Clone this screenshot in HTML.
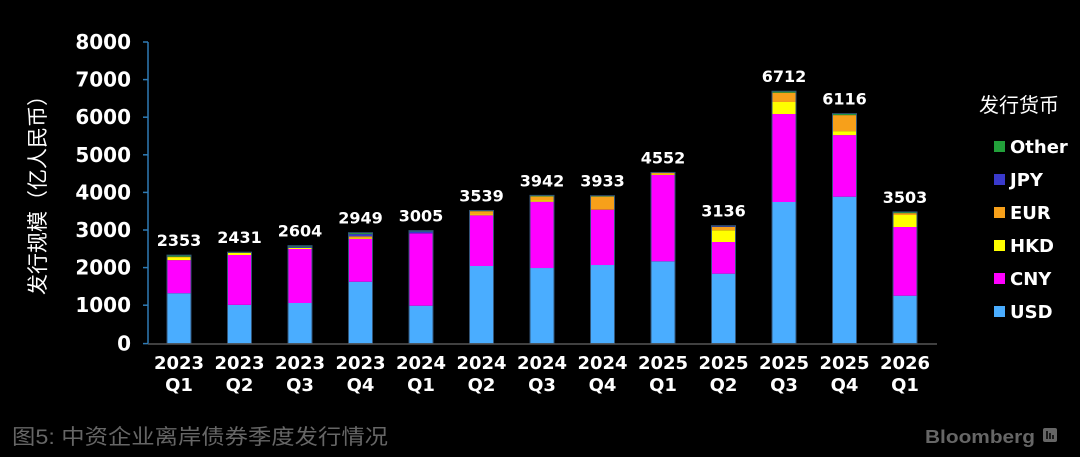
<!DOCTYPE html>
<html><head><meta charset="utf-8"><style>
html,body{margin:0;padding:0;background:#000;}
svg{display:block}
.t{font-family:"DejaVu Sans","Liberation Sans",sans-serif;font-weight:bold;fill:#fff}
.c{font-family:"Liberation Sans","Noto Sans CJK SC",sans-serif}
</style></head><body>
<svg width="1080" height="457" viewBox="0 0 1080 457" xmlns="http://www.w3.org/2000/svg">
<rect width="1080" height="457" fill="#000"/>
<g id="bars"></g>
<line x1="148" y1="42" x2="148" y2="344" stroke="#2f7bb5" stroke-width="1.5"/>
<g stroke="#2f7bb5" stroke-width="1.5">
<line x1="143" y1="42" x2="148" y2="42"/><line x1="143" y1="79.6" x2="148" y2="79.6"/>
<line x1="143" y1="117.2" x2="148" y2="117.2"/><line x1="143" y1="154.8" x2="148" y2="154.8"/>
<line x1="143" y1="192.4" x2="148" y2="192.4"/><line x1="143" y1="230" x2="148" y2="230"/>
<line x1="143" y1="267.6" x2="148" y2="267.6"/><line x1="143" y1="305.2" x2="148" y2="305.2"/>
<line x1="143" y1="343.6" x2="148" y2="343.6"/>
</g>
<line x1="148" y1="344" x2="937" y2="344" stroke="#555" stroke-width="1.5"/>
<g class="t" font-size="20" text-anchor="end">
<text x="131" y="49">8000</text><text x="131" y="86.6">7000</text>
<text x="131" y="124.2">6000</text><text x="131" y="161.8">5000</text>
<text x="131" y="199.4">4000</text><text x="131" y="237">3000</text>
<text x="131" y="274.6">2000</text><text x="131" y="312.2">1000</text>
<text x="131" y="350.6">0</text>
</g>
<text class="c" font-size="21" fill="#fff" transform="translate(45,190) rotate(-90)" text-anchor="middle">发行规模（亿人民币）</text>
<g id="xl" class="t" font-size="18" text-anchor="middle"></g>
<g id="dl" class="t" font-size="16" text-anchor="middle"></g>
<text class="c" x="979" y="112" font-size="20" fill="#fff">发行货币</text>
<g class="t" font-size="18">
<rect x="994" y="141" width="11" height="11" fill="#22a03a"/><text x="1010" y="153">Other</text>
<rect x="994" y="174" width="11" height="11" fill="#3a3acc"/><text x="1010" y="186">JPY</text>
<rect x="994" y="207" width="11" height="11" fill="#f7a01a"/><text x="1010" y="219">EUR</text>
<rect x="994" y="240" width="11" height="11" fill="#ffff00"/><text x="1010" y="252">HKD</text>
<rect x="994" y="273" width="11" height="11" fill="#ff00ff"/><text x="1010" y="285">CNY</text>
<rect x="994" y="306" width="11" height="11" fill="#4aadff"/><text x="1010" y="318">USD</text>
</g>
<text class="c" x="12" y="444" font-size="21" fill="#666" textLength="376" lengthAdjust="spacingAndGlyphs">图5: 中资企业离岸债券季度发行情况</text>
<text x="925" y="443" font-family="Liberation Sans,sans-serif" font-weight="bold" font-size="18" fill="#666" textLength="110" lengthAdjust="spacingAndGlyphs">Bloomberg</text>
<rect x="1043" y="428" width="14" height="14" rx="2" fill="#666"/>
<g stroke="#000" stroke-width="1.5"><line x1="1047" y1="431" x2="1047" y2="439"/><line x1="1050" y1="433" x2="1050" y2="439"/><line x1="1053" y1="435" x2="1053" y2="439"/></g>
<script>
var data=[
["2023","Q1",[1340,880,70,20,0,43],2353],
["2023","Q2",[1030,1326,60,0,0,15],2431],
["2023","Q3",[1080,1436,30,0,30,28],2604],
["2023","Q4",[1646,1136,20,50,60,37],2949],
["2024","Q1",[1008,1925,0,0,50,22],3005],
["2024","Q2",[2064,1348,20,90,0,17],3539],
["2024","Q3",[2010,1764,40,100,0,28],3942],
["2024","Q4",[2090,1471,0,350,0,22],3933],
["2025","Q1",[2189,2295,20,48,0,0],4552],
["2025","Q2",[1860,842,312,90,20,12],3136],
["2025","Q3",[3766,2340,320,247,0,39],6712],
["2025","Q4",[3907,1638,106,426,0,39],6116],
["2026","Q1",[1274,1827,319,50,0,33],3503]];
var cols=["#4aadff","#ff00ff","#ffff00","#f7a01a","#3a3acc","#22a03a"];
var NS="http://www.w3.org/2000/svg",k=37.6/1000,y0=343.6;
var B=document.getElementById("bars"),X=document.getElementById("xl"),D=document.getElementById("dl");
function el(n,a,p,t){var e=document.createElementNS(NS,n);for(var q in a)e.setAttribute(q,a[q]);if(t)e.textContent=t;p.appendChild(e);return e;}
data.forEach(function(d,i){
 var x=167+60.5*i,cum=0;
 d[2].forEach(function(v,j){ if(v<=0)return; var h=v*k; el("rect",{x:x,y:y0-(cum+v)*k,width:24,height:h,fill:cols[j]},B); cum+=v;});
 el("rect",{x:x,y:y0-d[3]*k,width:24,height:d[3]*k,fill:"none",stroke:"#335577","stroke-width":"1"},B);
 el("text",{x:x+12,y:y0-d[3]*k-9},D,String(d[3]));
 el("text",{x:x+12,y:369},X,d[0]);
 el("text",{x:x+12,y:391},X,d[1]);
});
</script>
</svg>
</body></html>
